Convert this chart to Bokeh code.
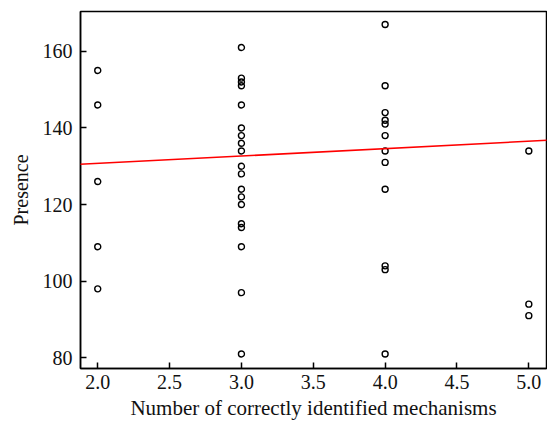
from bokeh.plotting import figure
from bokeh.models import Range1d, FixedTicker, NumeralTickFormatter, Slope
from bokeh.embed import file_html
from bokeh.resources import INLINE

# number of correctly identified mechanisms (x) and presence scores (y)
x2 = [2.0] * 5
y2 = [155, 146, 126, 109, 98]
x3 = [3.0] * 19
y3 = [161, 153, 152, 151, 146, 140, 138, 136, 134, 130, 128, 124, 122, 120, 115, 114, 109, 97, 81]
x4 = [4.0] * 12
y4 = [167, 151, 144, 142, 141, 138, 134, 131, 124, 104, 103, 81]
x5 = [5.0] * 3
y5 = [134, 94, 91]

xs = x2 + x3 + x4 + x5
ys = y2 + y3 + y4 + y5

# trend line
trend_gradient = 1.94
trend_intercept = 126.85

x_ticks = [2.0, 2.5, 3.0, 3.5, 4.0, 4.5, 5.0]
y_ticks = [80, 100, 120, 140, 160]

FONT = "Liberation Serif"

p = figure(width=547, height=424, output_backend="svg", toolbar_location=None,
           x_range=Range1d(1.88, 5.123), y_range=Range1d(77.2, 170.4),
           min_border_left=80, min_border_right=1, min_border_top=11, min_border_bottom=56)

p.scatter(xs, ys, marker="circle", size=6, fill_color=None, line_color="black", line_width=1.4)
p.add_layout(Slope(gradient=trend_gradient, y_intercept=trend_intercept, line_color="red", line_width=1.5))

p.grid.visible = False
p.outline_line_color = "black"
p.outline_line_width = 1.5
p.background_fill_color = "white"
p.border_fill_color = "white"

for ax in (p.xaxis[0], p.yaxis[0]):
    ax.axis_line_color = "black"
    ax.axis_line_width = 1.5
    ax.major_tick_line_color = "black"
    ax.major_tick_line_width = 1.5
    ax.major_tick_in = 6
    ax.major_tick_out = 0
    ax.minor_tick_line_color = None
    ax.major_label_text_font = FONT
    ax.major_label_text_font_size = "20px"
    ax.major_label_text_color = "#111111"
    ax.axis_label_text_font = FONT
    ax.axis_label_text_font_size = "20px"
    ax.axis_label_text_font_style = "normal"
    ax.axis_label_text_color = "#111111"

p.xaxis.ticker = FixedTicker(ticks=x_ticks)
p.xaxis.formatter = NumeralTickFormatter(format="0.0")
p.yaxis.ticker = FixedTicker(ticks=y_ticks)
p.xaxis.axis_label = "Number of correctly identified mechanisms"
p.xaxis.axis_label_text_font_size = "21px"
p.yaxis.axis_label = "Presence"
p.xaxis.major_label_standoff = 6
p.xaxis.axis_label_standoff = 4
p.yaxis.major_label_standoff = 8
p.yaxis.axis_label_standoff = 8

open("out.html", "w").write(file_html(p, INLINE))
